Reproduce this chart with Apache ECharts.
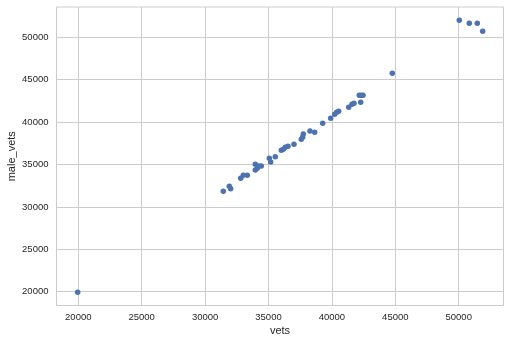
<!DOCTYPE html>
<html>
<head>
<meta charset="utf-8">
<script src="https://cdn.jsdelivr.net/npm/echarts@6/dist/echarts.min.js"></script>
<style>html,body{margin:0;padding:0;background:#fff;}#c{width:509px;height:343px;}</style>
</head>
<body>
<div id="c"></div>
<script>
var vets = [19950, 31435, 31908, 32018, 32807, 33012, 33327, 33958, 33958, 34116, 34226, 34431,
  35062, 35173, 35535, 36009, 36166, 36324, 36537, 37010, 37586, 37696, 37743, 38272, 38643,
  39273, 39904, 40220, 40378, 40535, 41324, 41584, 41742, 42160, 42294, 42452, 42270, 44762,
  50046, 50835, 51466, 51891];
var maleVets = [19930, 31837, 32427, 32144, 33370, 33724, 33724, 35020, 34348, 34549, 34820, 34820,
  35728, 35292, 35917, 36671, 36789, 37025, 37143, 37379, 37968, 38204, 38593, 38947, 38793,
  39854, 40444, 40915, 41151, 41269, 41741, 42095, 42213, 43156, 43156, 43156, 42330, 45749,
  51998, 51644, 51644, 50701];
var xTicks = [20000, 25000, 30000, 35000, 40000, 45000, 50000];
var yTicks = [20000, 25000, 30000, 35000, 40000, 45000, 50000];

var points = vets.map(function (v, i) { return [v, maleVets[i]]; });
var txt = '#262626';
var font = 'Liberation Sans, Arial, sans-serif';
var chart = echarts.init(document.getElementById('c'), null, {renderer: 'canvas'});
chart.setOption({
  backgroundColor: '#ffffff',
  animation: false,
  grid: {left: 56.5, top: 7, width: 447, height: 298.5, show: true, borderColor: '#cccccc', borderWidth: 1,
    containLabel: false, outerBoundsMode: 'none'},
  xAxis: {
    type: 'value', min: 18281, max: 53533,
    name: 'vets', nameLocation: 'middle', nameGap: 20, nameMoveOverlap: false,
    nameTextStyle: {color: txt, fontSize: 11, fontFamily: font},
    axisLine: {show: false},
    axisTick: {show: false, customValues: xTicks},
    axisLabel: {color: txt, fontSize: 9.5, margin: 7, fontFamily: font, customValues: xTicks, formatter: function (v) { return String(v); }},
    splitLine: {show: true, lineStyle: {color: '#cccccc', width: 1}}
  },
  yAxis: {
    type: 'value', min: 18373, max: 53572,
    name: 'male_vets', nameLocation: 'middle', nameGap: 39, nameMoveOverlap: false,
    nameTextStyle: {color: txt, fontSize: 11, fontFamily: font},
    axisLine: {show: false},
    axisTick: {show: false, customValues: yTicks},
    axisLabel: {color: txt, fontSize: 9.5, margin: 8, fontFamily: font, customValues: yTicks, formatter: function (v) { return String(v); }},
    splitLine: {show: true, lineStyle: {color: '#cccccc', width: 1}}
  },
  series: [{
    type: 'scatter', data: points, symbol: 'circle', symbolSize: 5.5,
    itemStyle: {color: '#4c72b0', opacity: 1}
  }]
});
</script>
</body>
</html>
